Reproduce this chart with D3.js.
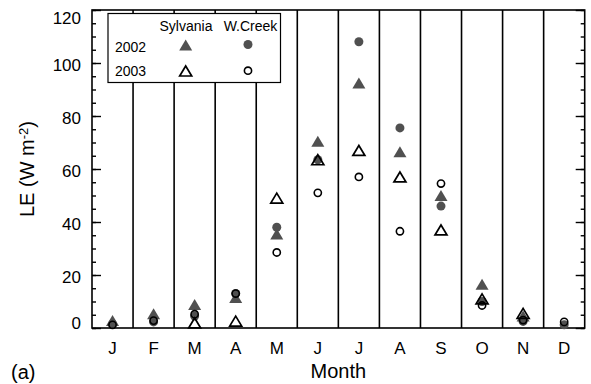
<!DOCTYPE html>
<html>
<head>
<meta charset="utf-8">
<script src="https://cdn.jsdelivr.net/npm/d3@7"></script>
<style>
  body { margin: 0; background: #fff; }
  text { font-family: "Liberation Sans", Arial, sans-serif; fill: #000; }
</style>
</head>
<body>
<script>
  // months and LE values (W m-2)
  const months = ["J", "F", "M", "A", "M", "J", "J", "A", "S", "O", "N", "D"];
  const sylv2002 = [2.8, 5.4, 8.9, 11.5, 35.5, 70.5, 92.5, 66.5, 50, 16.5, 4.5, null];
  const wc2002   = [1.5, 2.3, 4.5, 13, 38, 63.5, 108, 75.5, 46, 10, 2.5, 1.2];
  const sylv2003 = [null, null, 1.9, 2.6, 49, 63.5, 67, 57, 37, 11, 5.5, null];
  const wc2003   = [1.2, 2.8, 5.2, 13, 28.5, 51, 57, 36.5, 54.5, 8.5, 3, 2.3];
  const yTicks = [0, 20, 40, 60, 80, 100, 120];

  const w = 591, h = 384;
  const pLeft = 92, pRight = 584.7, pTop = 10, pBottom = 328;
  const grey = "#505050";

  const svg = d3.select("body").append("svg")
      .attr("width", w).attr("height", h);

  const x = d3.scaleBand()
      .domain(d3.range(12))
      .range([pLeft, pRight]);

  const y = d3.scaleLinear()
      .domain([0, 120])
      .range([pBottom, pTop]);

  // month separators
  svg.selectAll("line.sep")
    .data(d3.range(1, 12))
    .enter().append("line")
      .attr("class", "sep")
      .attr("x1", d => x(d)).attr("x2", d => x(d))
      .attr("y1", pTop).attr("y2", pBottom)
      .attr("stroke", "#000").attr("stroke-width", 1.6);

  // axes (ticks point inward)
  const yLeft = svg.append("g")
      .attr("transform", "translate(" + pLeft + ",0)")
      .call(d3.axisLeft(y).tickValues(yTicks).tickSizeInner(-9).tickSizeOuter(0).tickPadding(11));
  svg.append("g")
      .attr("transform", "translate(" + pLeft + ",0)")
      .call(d3.axisLeft(y).tickValues(d3.range(0, 121, 5)).tickSize(-4).tickFormat(""));
  svg.append("g")
      .attr("transform", "translate(" + pRight + ",0)")
      .call(d3.axisRight(y).tickValues(yTicks).tickSizeInner(-9).tickSizeOuter(0).tickFormat(""));
  svg.append("g")
      .attr("transform", "translate(" + pRight + ",0)")
      .call(d3.axisRight(y).tickValues(d3.range(0, 121, 5)).tickSize(-4).tickFormat(""));

  yLeft.selectAll("text")
      .style("font-size", "17px")
      .attr("dy", d => d === 120 ? "0.8em" : d === 0 ? "0.02em" : "0.45em");

  svg.append("g")
      .attr("transform", "translate(0," + pBottom + ")")
      .call(d3.axisBottom(x).tickSize(0).tickPadding(14).tickFormat(i => months[i]))
      .selectAll("text").style("font-size", "17px");

  svg.selectAll(".domain").remove();
  svg.selectAll(".tick line").attr("stroke", "#000").attr("stroke-width", 1.4);

  // frame
  svg.append("rect")
      .attr("x", pLeft).attr("y", pTop)
      .attr("width", pRight - pLeft).attr("height", pBottom - pTop)
      .attr("fill", "none").attr("stroke", "#000").attr("stroke-width", 1.6);

  const tri = (wd, ht) => "M0," + (-ht / 2) + "L" + (wd / 2) + "," + (ht / 2) + "L" + (-wd / 2) + "," + (ht / 2) + "Z";
  const idx = d3.range(12);
  const cx = i => x(i) + x.bandwidth() / 2;

  function triangles(vals, filled) {
    svg.append("g").selectAll("path")
      .data(idx.filter(i => vals[i] != null))
      .enter().append("path")
        .attr("d", filled ? tri(13, 11) : tri(12, 10))
        .attr("transform", i => "translate(" + cx(i) + "," + y(vals[i]) + ")")
        .attr("fill", filled ? grey : "none")
        .attr("stroke", filled ? "none" : "#000")
        .attr("stroke-width", 1.7)
        .attr("stroke-linejoin", "miter");
  }
  function circles(vals, filled) {
    svg.append("g").selectAll("circle")
      .data(idx.filter(i => vals[i] != null))
      .enter().append("circle")
        .attr("cx", cx)
        .attr("cy", i => y(vals[i]))
        .attr("r", filled ? 4.5 : 3.6)
        .attr("fill", filled ? grey : "none")
        .attr("stroke", filled ? "none" : "#000")
        .attr("stroke-width", 1.6);
  }
  triangles(sylv2002, true);
  circles(wc2002, true);
  triangles(sylv2003, false);
  circles(wc2003, false);

  // legend
  const lg = svg.append("g");
  lg.append("rect")
      .attr("x", 108).attr("y", 13.5).attr("width", 172.5).attr("height", 69)
      .attr("fill", "#fff").attr("stroke", "#000").attr("stroke-width", 1.2);
  lg.append("text").attr("x", 186).attr("y", 31).attr("text-anchor", "middle")
      .style("font-size", "14px").text("Sylvania");
  lg.append("text").attr("x", 250.5).attr("y", 31).attr("text-anchor", "middle")
      .style("font-size", "14px").text("W.Creek");
  lg.append("text").attr("x", 115).attr("y", 51.5).style("font-size", "14px").text("2002");
  lg.append("text").attr("x", 115).attr("y", 76).style("font-size", "14px").text("2003");
  lg.append("path").attr("d", tri(13, 11)).attr("transform", "translate(185.7,45)").attr("fill", grey);
  lg.append("circle").attr("cx", 248).attr("cy", 44.5).attr("r", 4.5).attr("fill", grey);
  lg.append("path").attr("d", tri(12, 10)).attr("transform", "translate(185.7,71)")
      .attr("fill", "none").attr("stroke", "#000").attr("stroke-width", 1.7);
  lg.append("circle").attr("cx", 248).attr("cy", 70.7).attr("r", 3.6)
      .attr("fill", "none").attr("stroke", "#000").attr("stroke-width", 1.6);

  // titles
  svg.append("text")
      .attr("x", (pLeft + pRight) / 2).attr("y", 378)
      .attr("text-anchor", "middle").style("font-size", "20px").text("Month");

  const yt = svg.append("text")
      .attr("transform", "translate(34," + ((pTop + pBottom) / 2) + ") rotate(-90)")
      .attr("text-anchor", "middle").style("font-size", "20px");
  yt.append("tspan").text("LE (W m");
  yt.append("tspan").attr("dy", "-0.5em").style("font-size", "13px").text("-2");
  yt.append("tspan").attr("dy", "0.32em").text(")");

  svg.append("text").attr("x", 11).attr("y", 379).style("font-size", "20px").text("(a)");
</script>
</body>
</html>
